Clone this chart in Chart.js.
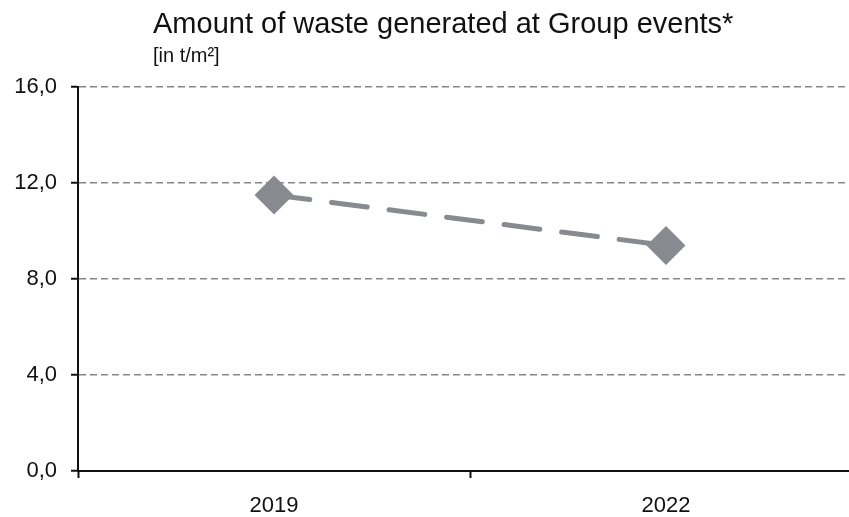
<!DOCTYPE html>
<html>
<head>
<meta charset="utf-8">
<script src="https://cdn.jsdelivr.net/npm/chart.js@4/dist/chart.umd.min.js"></script>
<style>
  html, body { margin: 0; padding: 0; background: #fff; overflow: hidden; }
  #wrap { width: 862px; height: 517px; }
</style>
</head>
<body>
<div id="wrap"><canvas id="graph" width="862" height="517"></canvas></div>
<script>
const years = ['2019', '2022'];
const wasteValues = [11.5, 9.4];
const yTickValues = [0, 4, 8, 12, 16];
const yTickLabels = ['0,0', '4,0', '8,0', '12,0', '16,0'];
const titleText = 'Amount of waste generated at Group events*';
const subtitleText = '[in t/m²]';

Chart.defaults.font.family = '"Liberation Sans", Arial, sans-serif';
Chart.defaults.color = '#111';

const ctx = document.getElementById('graph');

// title drawn left-aligned at a fixed x, like the original
const titlePlugin = {
    id: 'leftTitle',
    afterDraw(chart) {
        const c = chart.ctx;
        c.save();
        c.fillStyle = '#111';
        c.textAlign = 'left';
        c.textBaseline = 'alphabetic';
        c.font = '29px "Liberation Sans", Arial, sans-serif';
        c.fillText(titleText, 153, 33);
        c.font = '20px "Liberation Sans", Arial, sans-serif';
        c.fillText(subtitleText, 153, 62);
        c.restore();
    }
};

const grey = '#878b8f';

const config = {
    type: 'line',
    data: {
        labels: years,
        datasets: [
            {
                label: 'Waste',
                data: wasteValues,
                borderColor: grey,
                backgroundColor: grey,
                borderWidth: 5,
                borderDash: [36, 22],
                borderCapStyle: 'round',
                pointStyle: 'rectRot',
                pointRadius: 19.5,
                pointHoverRadius: 19.5,
                pointBorderWidth: 0,
                pointBackgroundColor: grey,
                tension: 0,
                fill: false
            }
        ]
    },
    options: {
        responsive: false,
        animation: false,
        devicePixelRatio: 1,
        layout: {
            autoPadding: false, // no extra room for the big diamonds
            padding: { top: 87, right: 0, left: 0, bottom: 0 }
        },
        plugins: {
            legend: { display: false },
            tooltip: { enabled: false }
        },
        scales: {
            x: {
                type: 'category',
                offset: true,
                grid: {
                    offset: true,
                    drawOnChartArea: false,
                    tickLength: 7,
                    tickWidth: 2,
                    tickColor: '#111',
                    color: '#111'
                },
                border: { display: true, color: '#111', width: 2 },
                ticks: {
                    font: { size: 22 },
                    padding: 15,
                    maxRotation: 0
                },
                afterFit: (scale) => {
                    scale.height = 46;
                    scale.paddingLeft = 0;
                    scale.paddingRight = 0;
                }
            },
            y: {
                min: 0,
                max: 16,
                afterBuildTicks: (scale) => {
                    scale.ticks = yTickValues.map(v => ({ value: v }));
                },
                grid: {
                    color: '#888888',
                    lineWidth: 1.5,
                    tickLength: 7,
                    tickWidth: 2,
                    tickColor: '#111',
                    tickBorderDash: []
                },
                border: { display: true, color: '#111', width: 2, dash: [7, 4] },
                ticks: {
                    font: { size: 22 },
                    padding: 14,
                    callback: (value) => yTickLabels[yTickValues.indexOf(value)]
                },
                afterFit: (scale) => { scale.width = 78; }
            }
        }
    },
    plugins: [titlePlugin]
};

const chart = new Chart(ctx, config);
</script>
</body>
</html>
